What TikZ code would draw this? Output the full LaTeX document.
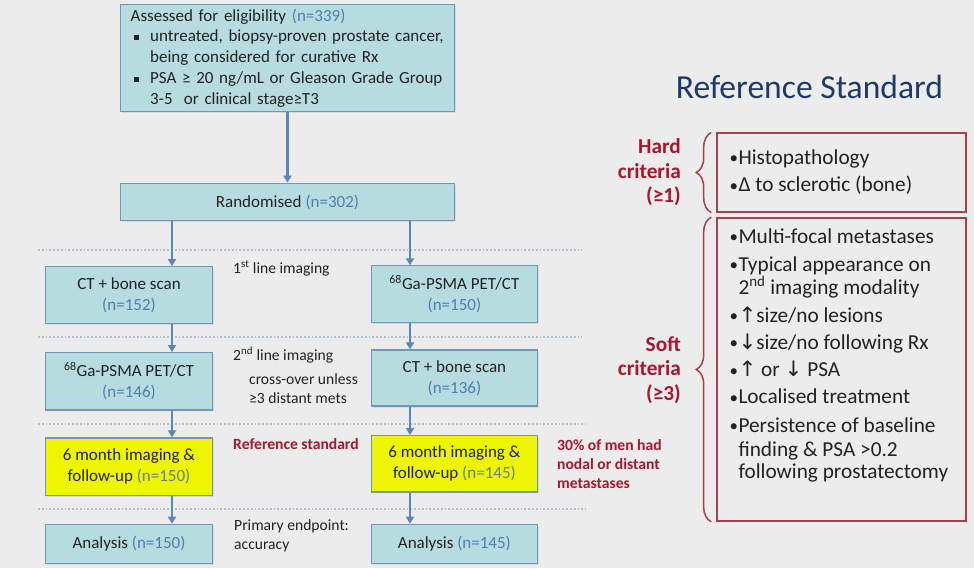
\documentclass[tikz,border=0pt]{standalone}
\usepackage{fontspec}
\setmainfont{Carlito}
\newfontfamily\symf{DejaVu Sans}
\usetikzlibrary{arrows.meta,decorations.pathreplacing,shadows}
\definecolor{bg}{HTML}{ECECEC}
\definecolor{boxfill}{HTML}{B7DCE0}
\definecolor{boxline}{HTML}{7096BD}
\definecolor{arrowc}{HTML}{5B86BC}
\definecolor{nblue}{HTML}{4F7DB3}
\definecolor{ngreen}{HTML}{66806E}
\definecolor{yel}{HTML}{EEF500}
\definecolor{dotc}{HTML}{B4BFCB}
\definecolor{redt}{HTML}{A8172D}
\definecolor{redl}{HTML}{A6414B}
\definecolor{navy}{HTML}{1F3A68}
\definecolor{txt}{HTML}{222222}
\newcommand\fsA{\fontsize{17}{20.8}\selectfont}
\newcommand\fsB{\fontsize{15.6}{19}\selectfont}
\newcommand\fsC{\fontsize{21.3}{24.3}\selectfont}
\newcommand\fsT{\fontsize{33.6}{38}\selectfont}
\newcommand\sqbul{\makebox[19.5pt][l]{\hspace{3.5pt}\raisebox{2pt}{\rule{5pt}{5pt}}}}
\newcommand\rbul{\makebox[9pt][l]{\raisebox{0.5pt}{\fontsize{17}{17}\selectfont •}}}
\begin{document}
\begin{tikzpicture}[x=1pt,y=-1pt,
  fbox/.style={draw=boxline, line width=1.2pt, fill=boxfill, inner sep=0pt, align=center, font=\fsA, text=txt,
    drop shadow={opacity=0.18, shadow xshift=1.5pt, shadow yshift=-1.5pt}},
  ybox/.style={fbox, fill=yel},
  arr/.style={draw=arrowc, line width=2.2pt, -{Triangle[length=7pt,width=8pt]}},
  dotl/.style={draw=dotc, line width=1.6pt, dash pattern=on 1.8pt off 2pt},
  note/.style={font=\fsB, text=txt, anchor=base west, inner sep=0pt, align=left},
  rnote/.style={font=\fsB\bfseries, text=redt, anchor=base west, inner sep=0pt, align=left},
  crit/.style={font=\fsC\bfseries, text=redt, align=right, inner sep=0pt},
  item/.style={font=\fsC, text=txt, anchor=base west, inner sep=0pt},
  rbox/.style={draw=redl, line width=1.6pt, inner sep=0pt},
  bracel/.style={draw=redl, line width=1.5pt, decorate, decoration={brace, amplitude=15pt, aspect=0.5}}]
\fill[bg] (0,0) rectangle (974,568);
\useasboundingbox (0,0) rectangle (974,568);

% dotted separators
\draw[dotl] (38,250) -- (582,250);
\draw[dotl] (38,337) -- (582,337);
\draw[dotl] (38,424) -- (586,424);
\draw[dotl] (38,509) -- (586,509);

% flowchart boxes
\node[fbox, minimum width=334pt, minimum height=107.5pt, text width=313.6pt, align=left] (elig) at (287.5,58)
 {\mbox{Assessed for eligibility {\color{nblue}(n=339)}}\\
  \mbox{\sqbul untreated, biopsy-proven prostate cancer,}\\
  \mbox{\hspace*{19.5pt}being considered for curative Rx}\\
  \mbox{\sqbul PSA ≥ 20 ng/mL or Gleason Grade Group}\\
  \mbox{\hspace*{19.5pt}3-5\ \ or clinical stage≥T3}};
\node[fbox, minimum width=334pt, minimum height=37.5pt] (rand) at (287.5,202) {Randomised {\color{nblue}(n=302)}};

\node[fbox, minimum width=166.6pt, minimum height=56.6pt] (ct1) at (129,295) {CT + bone scan\\{\color{nblue}(n=152)}};
\node[fbox, minimum width=166.6pt, minimum height=56.3pt] (pet1) at (454.4,294) {\textsuperscript{68}Ga-PSMA PET/CT\\{\color{nblue}(n=150)}};
\node[fbox, minimum width=166.6pt, minimum height=57.3pt] (pet2) at (129,381.3) {\textsuperscript{68}Ga-PSMA PET/CT\\{\color{nblue}(n=146)}};
\node[fbox, minimum width=166.6pt, minimum height=56pt] (ct2) at (454.4,378) {CT + bone scan\\{\color{nblue}(n=136)}};
\node[ybox, minimum width=166.6pt, minimum height=57.7pt] (fu1) at (129,466.8) {6 month imaging \&\\follow-up {\color{ngreen}(n=150)}};
\node[ybox, minimum width=166.6pt, minimum height=56.3pt] (fu2) at (454.4,463.8) {6 month imaging \&\\follow-up {\color{ngreen}(n=145)}};
\node[fbox, minimum width=166.6pt, minimum height=39pt] (an1) at (129,543.8) {Analysis {\color{nblue}(n=150)}};
\node[fbox, minimum width=166.6pt, minimum height=39pt] (an2) at (454.4,543.8) {Analysis {\color{nblue}(n=145)}};

% arrows
\coordinate (axL) at (172,0);
\coordinate (axR) at (410,0);
\draw[arr] (elig.south) -- (rand.north);
\draw[arr] (rand.south -| axL) -- (ct1.north -| axL);
\draw[arr] (rand.south -| axR) -- (pet1.north -| axR);
\draw[arr] (ct1.south -| axL) -- (pet2.north -| axL);
\draw[arr] (pet1.south -| axR) -- (ct2.north -| axR);
\draw[arr] (pet2.south -| axL) -- (fu1.north -| axL);
\draw[arr] (ct2.south -| axR) -- (fu2.north -| axR);
\draw[arr] (fu1.south -| axL) -- (an1.north -| axL);
\draw[arr] (fu2.south -| axR) -- (an2.north -| axR);

% annotations
\node[note] (n1) at (233,273) {1\textsuperscript{st} line imaging};
\node[note] (n2) at (233,360) {2\textsuperscript{nd} line imaging};
\node[note] (n3) at (249,384) {cross-over unless};
\node[note] (n4) at (249,403) {≥3 distant mets};
\node[rnote] (n5) at (233,449) {Reference standard};
\node[rnote] (n6) at (557,450) {30\% of men had};
\node[rnote] (n7) at (557,469) {nodal or distant};
\node[rnote] (n8) at (557,488) {metastases};
\node[note] (n9) at (234,530) {Primary endpoint:};
\node[note] (n10) at (234,549) {accuracy};

% reference standard panel
\node[font=\fsT, text=navy, inner sep=0pt] (title) at (809.5,86.7) {Reference Standard};
\node[rbox, minimum width=249pt, minimum height=78.5pt] (hard) at (841.5,172.5) {};
\node[rbox, minimum width=249pt, minimum height=303pt] (soft) at (841.5,369.5) {};
\draw[bracel] ([xshift=-5pt]hard.south west) -- ([xshift=-5pt]hard.north west);
\draw[bracel] ([xshift=-5pt]soft.south west) -- ([xshift=-5pt]soft.north west);
\node[crit, anchor=east] (hardlbl) at (681,172.3) {Hard\\criteria\\(≥1)};
\node[crit, anchor=east] (softlbl) at (681,370) {Soft\\criteria\\(≥3)};

\node[item] (h1) at (729.3,164.3) {\rbul Histopathology};
\node[item] (h2) at (729.3,191.7) {\rbul Δ to sclerotic (bone)};
\node[item] (s1) at (729.3,243.3) {\rbul Multi-focal metastases};
\node[item] (s2) at (729.3,271) {\rbul Typical appearance on};
\node[item] (s3) at (738.3,294.3) {2\textsuperscript{nd} imaging modality};
\node[item] (s4) at (729.3,322) {\rbul {\symf ↑}size/no lesions};
\node[item] (s5) at (729.3,349.3) {\rbul {\symf ↓}size/no following Rx};
\node[item] (s6) at (729.3,376.7) {\rbul {\symf ↑} or {\symf ↓} PSA};
\node[item] (s7) at (729.3,403.7) {\rbul Localised treatment};
\node[item] (s8) at (729.3,432) {\rbul Persistence of baseline};
\node[item] (s9) at (738.3,456) {finding \& PSA >0.2};
\node[item] (s10) at (738.3,478.7) {following prostatectomy};
\end{tikzpicture}
\end{document}
